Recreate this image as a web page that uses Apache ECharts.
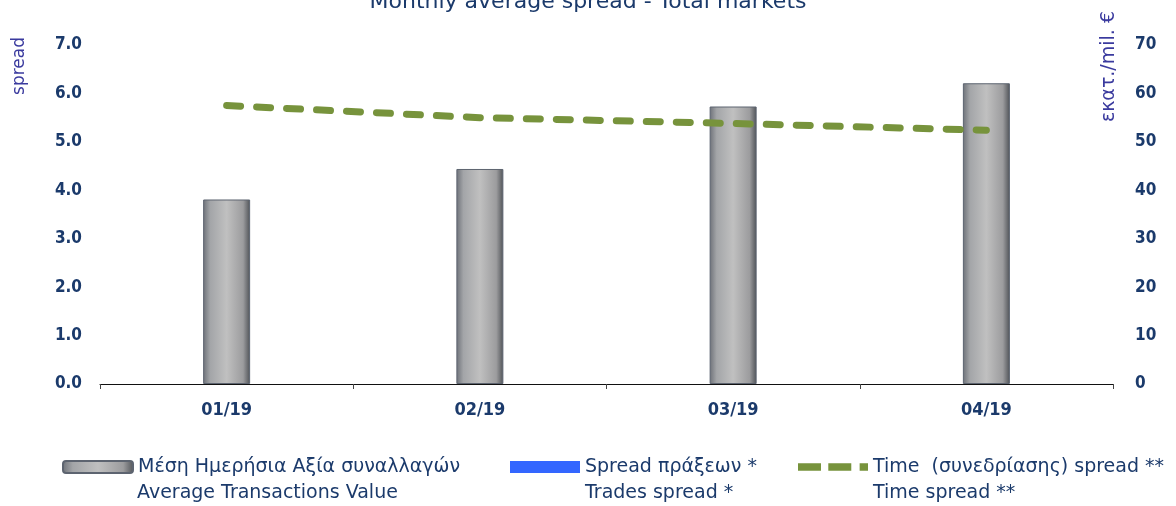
<!DOCTYPE html>
<html>
<head>
<meta charset="utf-8">
<title>Monthly average spread</title>
<script src="https://cdn.jsdelivr.net/npm/echarts@6/dist/echarts.min.js"></script>
<style>
  html, body { margin: 0; padding: 0; background: #fff; }
  #main { width: 1176px; height: 506px; }
</style>
</head>
<body>
<div id="main"></div>
<script>
// data
var months = ['01/19', '02/19', '03/19', '04/19'];
var avgValue = [38.1, 44.4, 57.3, 62.1];      // εκατ. € (right axis)
var tradesSpread = [null, null, null, null];  // no values drawn in the picture
var timeSpread = [5.75, 5.5, 5.38, 5.24];     // left axis
var leftTicks = [0, 7, 1];
var rightTicks = [0, 70, 10];

var navy = '#1B3A6B';
var purple = '#3A3A9E';
var axisFont = '"DejaVu Sans Condensed", "DejaVu Sans", sans-serif';
var textFont = '"DejaVu Sans", sans-serif';

// legend: first line is the series name, second line drawn under it
var names = {
  bar: 'Μέση Ημερήσια Αξία συναλλαγών',
  trades: 'Spread πράξεων *',
  time: 'Time  (συνεδρίασης) spread **'
};
var subNames = ['Average Transactions Value', 'Trades spread *', 'Time spread **'];
var legendLeft = [62, 510, 798];

var barFill = new echarts.graphic.LinearGradient(0, 0, 1, 0, [
  { offset: 0, color: '#6d7178' },
  { offset: 0.15, color: '#a3a5a8' },
  { offset: 0.5, color: '#c0c0c0' },
  { offset: 0.85, color: '#9c9c9e' },
  { offset: 1, color: '#4f5257' }
]);

function legendCfg(item, left) {
  return {
    data: [item],
    left: left,
    top: 456,
    padding: 0,
    itemWidth: 70,
    itemHeight: 12,
    itemGap: 0,
    textStyle: { color: navy, fontSize: 19, fontFamily: textFont, lineHeight: 22 },
    selectedMode: false
  };
}

var chart = echarts.init(document.getElementById('main'));
chart.setOption({
  animation: false,
  title: {
    text: 'Monthly average spread - Total markets',
    left: 'center',
    top: -14,
    textStyle: { color: navy, fontSize: 22, fontWeight: 'normal', fontFamily: textFont }
  },
  grid: { left: 100, right: 63, top: 45, bottom: 122, outerBoundsMode: 'none' },
  legend: [
    legendCfg({ name: names.bar }, legendLeft[0]),
    legendCfg({ name: names.trades, icon: 'rect', itemStyle: { color: '#3366FF' } }, legendLeft[1]),
    legendCfg({
      name: names.time,
      icon: 'path://M0,0h22v7h-22z M29,0h22v7h-22z M59,0h8v7h-8z'
    }, legendLeft[2])
  ],
  graphic: [
    {
      type: 'text', left: 11, top: 37,
      rotation: Math.PI / 2,
      style: { text: 'spread', fill: purple, fontSize: 17, fontFamily: textFont }
    },
    {
      type: 'text', left: 1100, top: 11,
      rotation: Math.PI / 2,
      style: { text: 'εκατ./mil. €', fill: purple, fontSize: 19, fontFamily: textFont }
    }
  ].concat(subNames.map(function (t, i) {
    return {
      type: 'text', left: legendLeft[i] + 75, top: 484,
      style: { text: t, fill: navy, fontSize: 19, fontFamily: textFont }
    };
  })),
  xAxis: {
    type: 'category',
    data: months,
    axisLine: { lineStyle: { color: '#111', width: 1 } },
    axisTick: { show: true, length: 5, lineStyle: { color: '#444' } },
    axisLabel: { color: navy, fontSize: 18, fontWeight: 'bold', fontFamily: axisFont, margin: 17 }
  },
  yAxis: [
    {
      type: 'value',
      min: leftTicks[0], max: leftTicks[1], interval: leftTicks[2],
      axisLine: { show: false },
      axisTick: { show: false },
      splitLine: { show: false },
      axisLabel: {
        color: navy, fontSize: 17, fontWeight: 'bold', fontFamily: axisFont, margin: 18,
        formatter: function (v) { return v.toFixed(1); }
      }
    },
    {
      type: 'value',
      min: rightTicks[0], max: rightTicks[1], interval: rightTicks[2],
      axisLine: { show: false },
      axisTick: { show: false },
      splitLine: { show: false },
      axisLabel: { color: navy, fontSize: 17, fontWeight: 'bold', fontFamily: axisFont, margin: 22 }
    }
  ],
  series: [
    {
      name: names.bar,
      type: 'bar',
      yAxisIndex: 1,
      data: avgValue,
      barWidth: 47,
      itemStyle: { color: barFill, borderColor: '#5d6470', borderWidth: 1 }
    },
    {
      name: names.trades,
      type: 'line',
      yAxisIndex: 0,
      data: tradesSpread,
      symbol: 'none',
      lineStyle: { color: '#3366FF', width: 4 },
      itemStyle: { color: '#3366FF' }
    },
    {
      name: names.time,
      type: 'line',
      yAxisIndex: 0,
      data: timeSpread,
      symbol: 'none',
      lineStyle: { color: '#77933C', width: 7, type: [14, 16], cap: 'round' },
      itemStyle: { color: '#77933C' }
    }
  ]
});
</script>
</body>
</html>
